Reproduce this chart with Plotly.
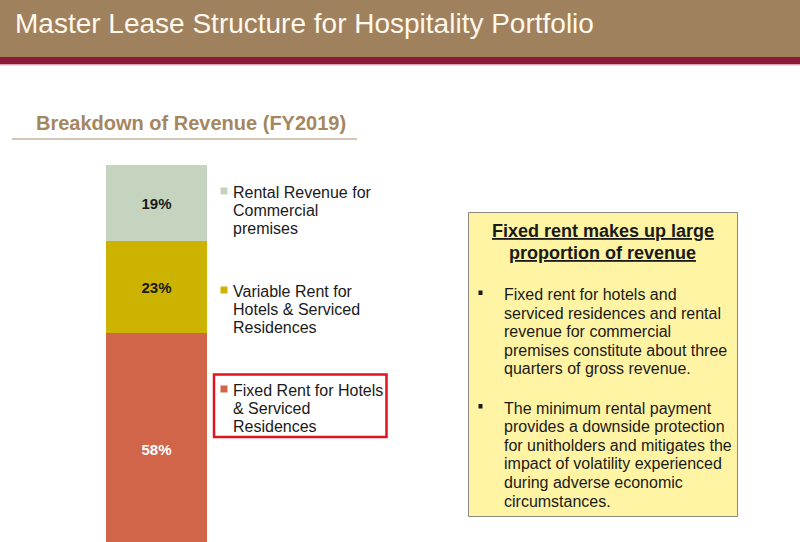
import plotly.graph_objects as go

W, H = 800, 542

# ---- data ----
categories = ["FY2019"]
series_names = [
    "Fixed Rent for Hotels & Serviced Residences",
    "Variable Rent for Hotels & Serviced Residences",
    "Rental Revenue for Commercial premises",
]
series_values = [58, 23, 19]
series_labels = ["58%", "23%", "19%"]
series_colors = ["#D0654A", "#CBB300", "#C4D4BE"]
label_colors = ["#FFFFFF", "#1A1A1A", "#1A1A1A"]
legend_lines = [
    ["Fixed Rent for Hotels", "& Serviced", "Residences"],
    ["Variable Rent for", "Hotels & Serviced", "Residences"],
    ["Rental Revenue for", "Commercial", "premises"],
]

title_text = "Master Lease Structure for Hospitality Portfolio"
subtitle_text = "Breakdown of Revenue (FY2019)"
box_heading = ["Fixed rent makes up large", "proportion of revenue"]
box_bullets = [
    ["Fixed rent for hotels and", "serviced residences and rental",
     "revenue for commercial", "premises constitute about three",
     "quarters of gross revenue."],
    ["The minimum rental payment", "provides a downside protection",
     "for unitholders and mitigates the", "impact of volatility experienced",
     "during adverse economic", "circumstances."],
]

FONT = "Liberation Sans, Arial, sans-serif"


def px(x):
    return x / W


def py(y):
    return 1 - y / H


fig = go.Figure()
for name, val, lab, col, lcol in zip(series_names, series_values, series_labels,
                                     series_colors, label_colors):
    fig.add_trace(go.Bar(
        x=[0], y=[val], name=name, width=1,
        marker=dict(color=col, line=dict(width=0)),
        text=[lab], textposition="inside", insidetextanchor="middle",
        textangle=0, constraintext="none",
        textfont=dict(family=FONT, size=15, color=lcol),
        texttemplate="<b>%{text}</b>",
        hoverinfo="skip",
    ))

shapes = []
annotations = []

# header band
shapes.append(dict(type="rect", xref="paper", yref="paper", x0=0, x1=1,
                   y0=py(57), y1=1, fillcolor="#A0815D", line=dict(width=0), layer="below"))
shapes.append(dict(type="rect", xref="paper", yref="paper", x0=0, x1=1,
                   y0=py(64), y1=py(57), fillcolor="#8C1A38", line=dict(width=0), layer="below"))
shapes.append(dict(type="rect", xref="paper", yref="paper", x0=0, x1=1,
                   y0=py(65.5), y1=py(64), fillcolor="#D8A8B4", line=dict(width=0), layer="below"))
annotations.append(dict(xref="paper", yref="paper", x=px(13), y=py(24),
                        xanchor="left", yanchor="middle", showarrow=False,
                        text=title_text, font=dict(family=FONT, size=28, color="#FFF8EC")))

# subtitle + underline
annotations.append(dict(xref="paper", yref="paper", x=px(34), y=py(123),
                        xanchor="left", yanchor="middle", showarrow=False,
                        text="<b>" + subtitle_text + "</b>",
                        font=dict(family=FONT, size=20, color="#A4865F")))
shapes.append(dict(type="line", xref="paper", yref="paper", x0=px(12), x1=px(357),
                   y0=py(139), y1=py(139), line=dict(color="#C4B29C", width=1.5)))

# legend (custom)
legend_top = [191, 290, 389]
line_gap = 18.3
for lines, col, y0 in zip(legend_lines[::-1], series_colors[::-1], legend_top):
    shapes.append(dict(type="rect", xref="paper", yref="paper",
                       x0=px(220.5), x1=px(227.5), y0=py(y0 + 3.5), y1=py(y0 - 3.5),
                       fillcolor=col, line=dict(width=0)))
    for i, ln in enumerate(lines):
        annotations.append(dict(xref="paper", yref="paper", x=px(231), y=py(y0 + i * line_gap + 1),
                                xanchor="left", yanchor="middle", showarrow=False,
                                text=ln, font=dict(family=FONT, size=16, color="#1A1A1A")))

# red highlight box around fixed rent legend item
shapes.append(dict(type="rect", xref="paper", yref="paper",
                   x0=px(214), x1=px(386.5), y0=py(437), y1=py(374.5),
                   line=dict(color="#E0141E", width=2.5), fillcolor="rgba(0,0,0,0)"))

# yellow text box
shapes.append(dict(type="rect", xref="paper", yref="paper",
                   x0=px(468.5), x1=px(737.5), y0=py(516.5), y1=py(212.5),
                   fillcolor="#FFF4A3", line=dict(color="#8A8A80", width=1), layer="below"))
for i, ln in enumerate(box_heading):
    annotations.append(dict(xref="paper", yref="paper", x=px(602.5), y=py(230 + i * 21.5 + 1),
                            xanchor="center", yanchor="middle", showarrow=False,
                            text="<b><u>" + ln + "</u></b>",
                            font=dict(family=FONT, size=18, color="#1A1A1A")))
bullet_tops = [293.5, 407]
for lines, y0 in zip(box_bullets, bullet_tops):
    shapes.append(dict(type="rect", xref="paper", yref="paper",
                       x0=px(478.5), x1=px(482.5), y0=py(y0 + 1.5), y1=py(y0 - 3),
                       fillcolor="#1A1A1A", line=dict(width=0)))
    for i, ln in enumerate(lines):
        annotations.append(dict(xref="paper", yref="paper", x=px(502), y=py(y0 + i * 18.6 + 1),
                                xanchor="left", yanchor="middle", showarrow=False,
                                text=ln, font=dict(family=FONT, size=16, color="#1A1A1A")))

fig.update_layout(
    width=W, height=H,
    margin=dict(l=0, r=0, t=0, b=0, pad=0),
    paper_bgcolor="#FFFFFF", plot_bgcolor="rgba(0,0,0,0)",
    barmode="stack", showlegend=False,
    uniformtext=dict(minsize=15, mode="show"),
    xaxis=dict(domain=[px(106), px(207)], range=[-0.5, 0.5], visible=False, fixedrange=True),
    yaxis=dict(domain=[0, py(165)], range=[100 - (H - 165) / 4.0, 100], visible=False,
               fixedrange=True),
    shapes=shapes, annotations=annotations,
    font=dict(family=FONT),
)

fig.write_html(
    "out.html",
    config={"displayModeBar": False},
    post_script="document.body.style.margin='0';document.body.style.padding='0';"
                "document.body.style.overflow='hidden';",
)
